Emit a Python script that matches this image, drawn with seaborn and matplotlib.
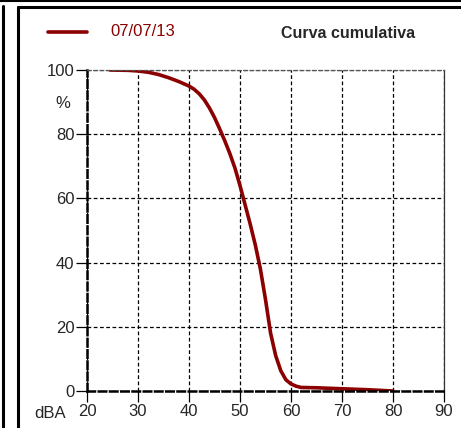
import numpy as np
import matplotlib.pyplot as plt
import seaborn as sns
from matplotlib.lines import Line2D

sns.set_style("white")
plt.rcParams['font.family'] = ['Liberation Sans', 'DejaVu Sans']

# Cumulative curve
level_dba = [24.5, 28, 30, 32, 34, 36, 38, 40, 41, 42, 43, 44, 45, 46, 47, 48, 49,
             50, 51, 52, 53, 54, 55, 56, 57, 58, 59, 60, 61, 62, 65, 70, 75, 80]
percent = [100, 99.9, 99.7, 99.3, 98.6, 97.6, 96.4, 95, 94, 92.6, 90.7, 88.2, 85.2,
           81.7, 78, 74, 69.5, 64, 58, 52, 45.5, 38, 28.5, 18, 11, 6.3, 3.5, 2.2,
           1.5, 1.1, 1.0, 0.7, 0.4, 0]
series_label = '07/07/13'
title = 'Curva cumulativa'
x_ticks = [20, 30, 40, 50, 60, 70, 80, 90]
y_ticks = [0, 20, 40, 60, 80, 100]

curve_color = '#8b0000'
font_size = 12

fig = plt.figure(figsize=(4.61, 4.28), dpi=100)
ax = fig.add_axes([87 / 461, 37 / 428, 357 / 461, 321 / 428])

sns.lineplot(x=level_dba, y=percent, ax=ax, color=curve_color, linewidth=2.6,
             sort=False, estimator=None)

ax.set_xlim(20, 90)
ax.set_ylim(0, 100)
ax.set_xticks(x_ticks)
ax.set_yticks(y_ticks)
ax.tick_params(axis='both', direction='out', length=8, width=0.9, color='black',
               labelsize=font_size, pad=1, bottom=True, left=True)
ax.grid(True, linestyle=(0, (3, 2)), color='black', linewidth=0.9)
ax.set_xlabel('')
ax.set_ylabel('')

for side in ['left', 'bottom']:
    ax.spines[side].set_linestyle((0, (3, 1.5)))
    ax.spines[side].set_linewidth(1.8)
    ax.spines[side].set_color('black')
ax.spines['top'].set_linestyle((0, (3, 2)))
ax.spines['top'].set_linewidth(0.9)
ax.spines['top'].set_color('#555555')
ax.spines['right'].set_linewidth(0.9)
ax.spines['right'].set_color('#333333')

# Axis unit labels
fig.text(63 / 461, 1 - 103 / 428, '%', ha='center', va='center', fontsize=font_size)
fig.text(50 / 461, 1 - 413 / 428, 'dBA', ha='center', va='center', fontsize=font_size)

# Legend-like header
fig.add_artist(Line2D([48 / 461, 87 / 461], [1 - 32 / 428, 1 - 32 / 428],
                      color=curve_color, linewidth=2.6))
fig.text(110 / 461, 1 - 32 / 428, series_label, ha='left', va='center',
         fontsize=font_size, color=curve_color)
fig.text(348 / 461, 1 - 33 / 428, title, ha='center', va='center',
         fontsize=font_size - 0.5, fontweight='bold')

# Panel borders
fig.add_artist(Line2D([0, 1], [1 - 0.5 / 428, 1 - 0.5 / 428], color='black', linewidth=1.5))
fig.add_artist(Line2D([3 / 461, 3 / 461], [0, 1 - 6 / 428], color='black', linewidth=2.2))
fig.add_artist(Line2D([17.5 / 461, 17.5 / 461], [0, 1 - 7 / 428], color='black', linewidth=2.2))
fig.add_artist(Line2D([17.5 / 461, 1], [1 - 7 / 428, 1 - 7 / 428], color='black', linewidth=2.2))

fig.savefig('out.png', dpi=100)
